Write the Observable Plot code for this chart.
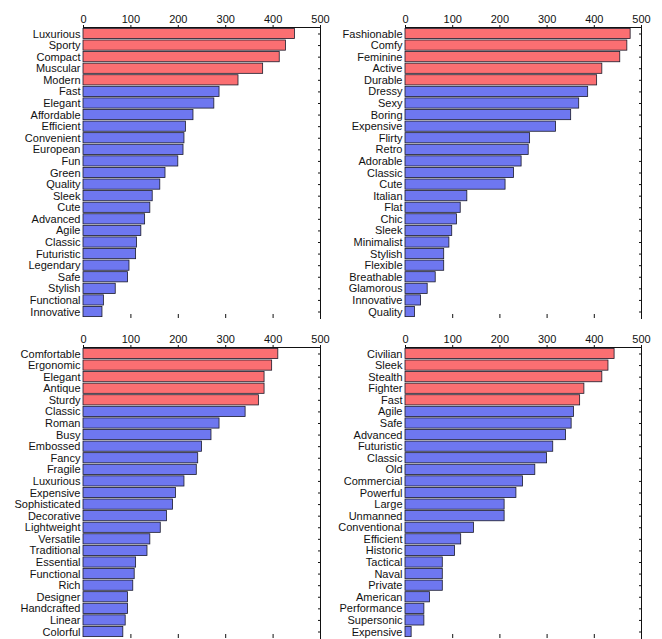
<!DOCTYPE html>
<html><head><meta charset="utf-8">
<script src="https://cdn.jsdelivr.net/npm/d3@7"></script>
<script src="https://cdn.jsdelivr.net/npm/@observablehq/plot@0.6"></script>
<style>
body{margin:0;background:#fff;font-family:"Liberation Sans",Arial,sans-serif;}
#grid{display:grid;grid-template-columns:331px 331px;width:662px;}
#grid svg{display:block;}
</style></head><body><div id="grid"></div>
<script>
const labels1 = ["Luxurious","Sporty","Compact","Muscular","Modern","Fast","Elegant","Affordable","Efficient","Convenient","European","Fun","Green","Quality","Sleek","Cute","Advanced","Agile","Classic","Futuristic","Legendary","Safe","Stylish","Functional","Innovative"];
const values1 = [446,427,414,379,327,287,276,232,216,213,211,200,173,162,146,141,130,122,113,111,97,94,68,43,40];
const labels2 = ["Fashionable","Comfy","Feminine","Active","Durable","Dressy","Sexy","Boring","Expensive","Flirty","Retro","Adorable","Classic","Cute","Italian","Flat","Chic","Sleek","Minimalist","Stylish","Flexible","Breathable","Glamorous","Innovative","Quality"];
const values2 = [477,470,455,417,406,387,368,351,319,264,261,246,230,212,131,117,109,99,93,82,82,64,47,33,20];
const labels3 = ["Comfortable","Ergonomic","Elegant","Antique","Sturdy","Classic","Roman","Busy","Embossed","Fancy","Fragile","Luxurious","Expensive","Sophisticated","Decorative","Lightweight","Versatile","Traditional","Essential","Functional","Rich","Designer","Handcrafted","Linear","Colorful"];
const values3 = [411,398,382,382,370,342,287,270,250,242,239,213,195,189,176,163,141,135,111,108,105,94,94,89,84];
const labels4 = ["Civilian","Sleek","Stealth","Fighter","Fast","Agile","Safe","Advanced","Futuristic","Classic","Old","Commercial","Powerful","Large","Unmanned","Conventional","Efficient","Historic","Tactical","Naval","Private","American","Performance","Supersonic","Expensive"];
const values4 = [443,430,417,379,370,357,352,340,313,300,275,249,235,210,210,145,118,105,79,79,79,52,40,40,13];
const xTicks = [0,100,200,300,400,500];
const topN = 5;
const colorTop = "#fb6f72";
const colorRest = "#6e77f0";

function panel(labels, values, opts) {
  const data = labels.map((l, i) => ({label: l, value: values[i], top: i < topN}));
  return Plot.plot({
    width: 331, height: opts.height,
    marginTop: opts.mt, marginBottom: opts.mb, marginLeft: opts.ml, marginRight: opts.mr,
    style: {fontFamily: "'Liberation Sans', Arial, sans-serif", fontSize: "11px", color: "#111", background: "#fff"},
    x: {domain: [0, 500]},
    y: {domain: labels, padding: 0.12, round: false},
    marks: [
      Plot.barX(data, {x: "value", y: "label", fill: d => d.top ? colorTop : colorRest, stroke: "#1a1a2a", strokeWidth: 0.8}),
      Plot.axisX({anchor: "top", ticks: xTicks, tickSize: 3, tickPadding: 2, fontSize: 11, label: null}),
      Plot.axisX({anchor: "bottom", ticks: xTicks.slice(1), tickSize: -4, tickFormat: () => "", label: null}),
      Plot.axisY({anchor: "left", tickSize: 0, tickPadding: 3, fontSize: 11, label: null}),
      Plot.axisY({anchor: "right", tickSize: -3, tickFormat: () => "", label: null}),
      Plot.frame({anchor: "top"}),
      Plot.frame({anchor: "right"})
    ]
  });
}

const grid = document.getElementById("grid");
grid.append(panel(labels1, values1, {height: 321, mt: 27, mb: 3, ml: 83, mr: 11}));
grid.append(panel(labels2, values2, {height: 321, mt: 27, mb: 3, ml: 74, mr: 21}));
grid.append(panel(labels3, values3, {height: 321, mt: 26, mb: 4, ml: 83, mr: 11}));
grid.append(panel(labels4, values4, {height: 321, mt: 26, mb: 4, ml: 74, mr: 21}));
</script></body></html>
